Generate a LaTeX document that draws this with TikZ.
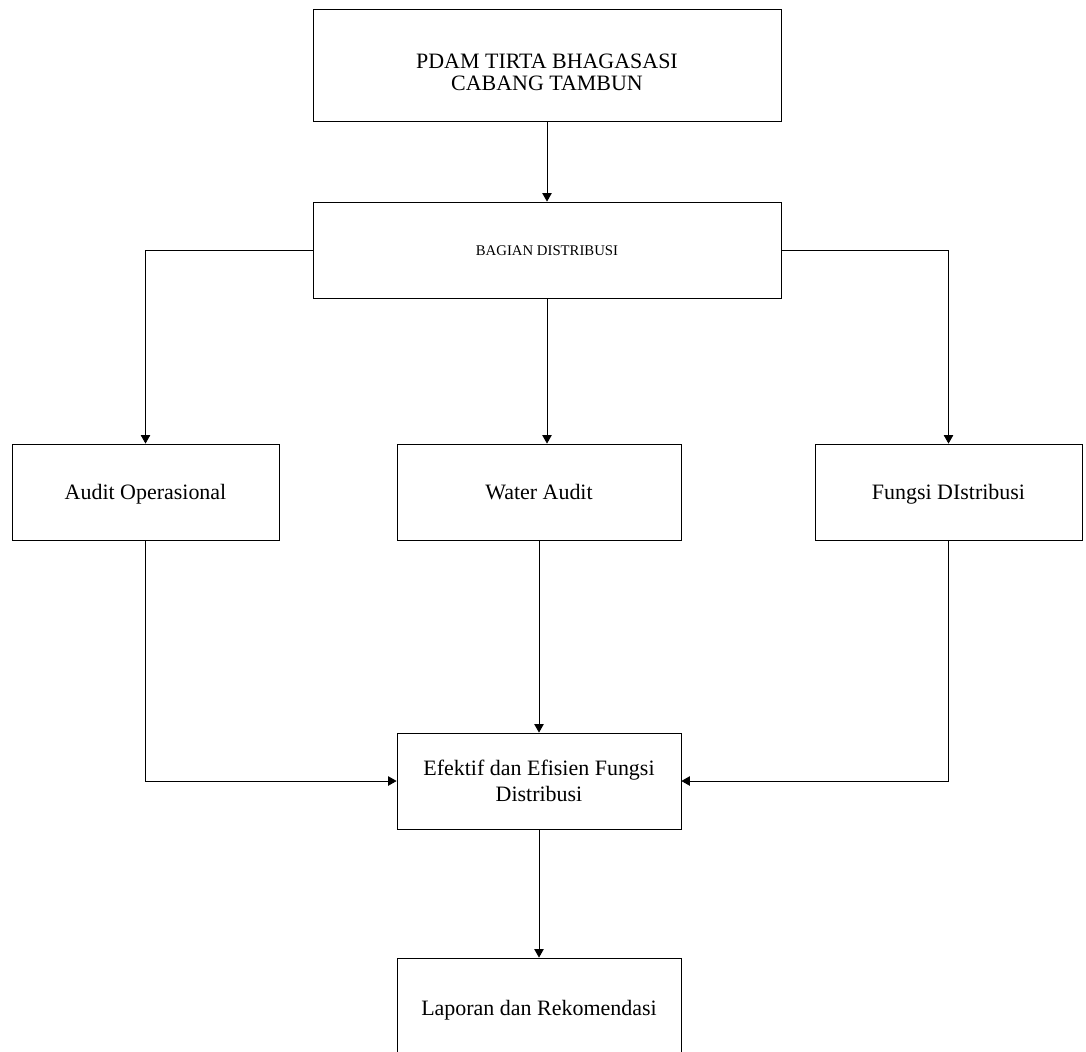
\documentclass[tikz,border=0pt]{standalone}
\usepackage{fontspec}
\setmainfont{Liberation Serif}
\usetikzlibrary{
    arrows.meta,
    positioning
}

\begin{document}
\begin{tikzpicture}[x=0.02cm, y=-0.02cm,
    box/.style={draw, line width=0.5pt, align=center, inner sep=0pt,
        font=\fontsize{12.5}{14.7}\selectfont},
    single/.style={box, text height=10pt, text depth=2pt},
    >={Triangle[length=0.17cm, width=0.19cm]}]
                        \useasboundingbox (0,0) rectangle (1086,1052);
                        \node[box, minimum width=9.36cm, minimum height=2.24cm, font=\fontsize{12.5}{12.5}\selectfont] (pdam) at (547,65) {\rule{0pt}{17pt}PDAM TIRTA BHAGASASI\\CABANG TAMBUN};
                        \node[single, minimum width=9.36cm, minimum height=1.92cm, font=\fontsize{8.4}{10}\selectfont, text height=7pt, text depth=1pt] (bag) at (547,250) {BAGIAN DISTRIBUSI};
                        \node[single, minimum width=5.34cm, minimum height=1.92cm] (audit) at (145.5,492) {Audit Operasional};
                        \node[single, minimum width=5.68cm, minimum height=1.92cm] (water) at (539,492) {Water Audit};
                        \node[single, minimum width=5.34cm, minimum height=1.92cm] (fungsi) at (948.5,492) {Fungsi DIstribusi};
                        \node[box, minimum width=5.68cm, minimum height=1.92cm] (efek) at (539,781) {Efektif dan Efisien Fungsi\\Distribusi};
                        \node[single, minimum width=5.68cm, minimum height=2cm] (lap) at (539,1008) {Laporan dan Rekomendasi};
                        \draw[->] (pdam) -- (bag);
                        \draw[->] (bag.west) -| (audit.north);
                        \draw[->] (bag.south) -- (bag.south |- water.north);
                        \draw[->] (bag.east) -| (fungsi.north);
                        \draw[->] (audit.south) |- (efek.west);
                        \draw[->] (water) -- (efek);
                        \draw[->] (fungsi.south) |- (efek.east);
                        \draw[->] (efek) -- (lap);
                    \end{tikzpicture}
\end{document}
